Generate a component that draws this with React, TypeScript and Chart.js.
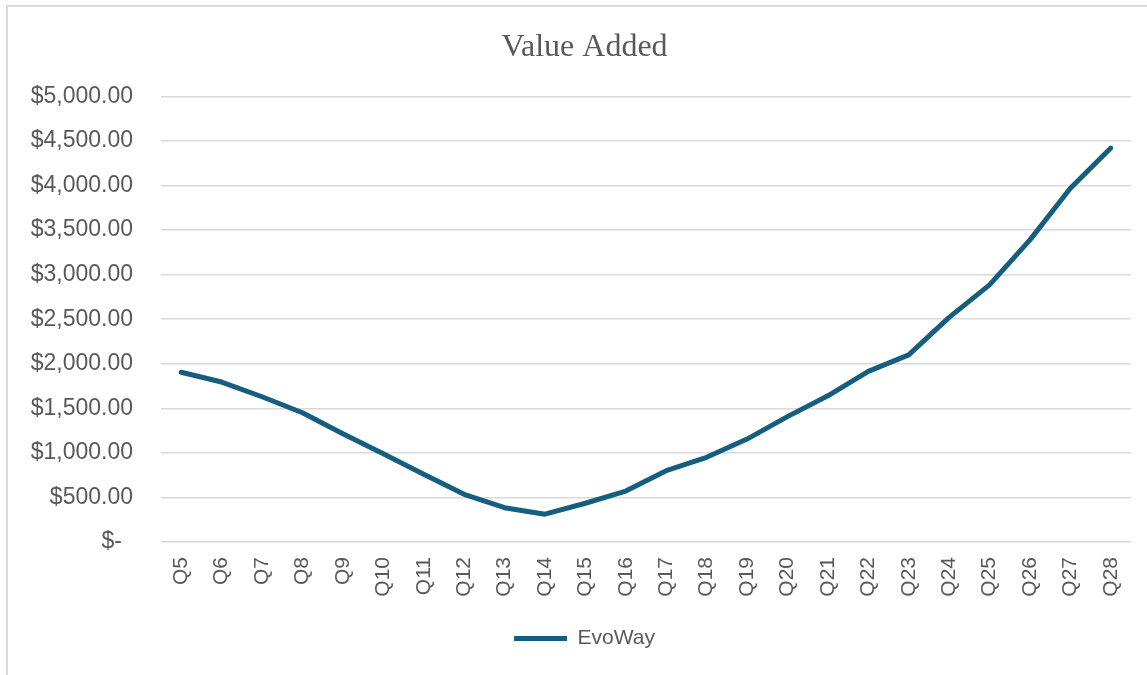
import React, { useEffect, useRef } from "react";
import { Chart, registerables } from "chart.js";

Chart.register(...registerables);

// Quarterly value added for EvoWay
const quarters = [
  "Q5", "Q6", "Q7", "Q8", "Q9", "Q10", "Q11", "Q12", "Q13", "Q14", "Q15", "Q16",
  "Q17", "Q18", "Q19", "Q20", "Q21", "Q22", "Q23", "Q24", "Q25", "Q26", "Q27", "Q28",
];
const evoWayValues = [
  1905, 1795, 1630, 1450, 1215, 990, 760, 535, 385, 312, 435, 572,
  800, 950, 1155, 1407, 1640, 1915, 2100, 2520, 2885, 3390, 3970, 4420,
];
const seriesName = "EvoWay";
const chartTitle = "Value Added";
const yMin = 0;
const yMax = 5000;
const yStep = 500;

const textGray = "#595959";
const gridGray = "#d9d9d9";
const lineBlue = "#165E80";

function formatDollars(v: number): string {
  if (v === 0) return "$-\u2009 ";
  return "$" + v.toLocaleString("en-US", { minimumFractionDigits: 2, maximumFractionDigits: 2 });
}

// Let the y tick labels use the space to the left of the axis box
// so the wide currency labels are not clipped.
const widenYLabelArea = {
  id: "widenYLabelArea",
  afterLayout(chart: any) {
    const y = chart.scales.y;
    if (y) y.left = 0;
  },
};

export default function App() {
  const canvasRef = useRef<HTMLCanvasElement | null>(null);

  useEffect(() => {
    if (!canvasRef.current) return;
    const chart = new Chart(canvasRef.current, {
      type: "line",
      data: {
        labels: quarters,
        datasets: [
          {
            label: seriesName,
            data: evoWayValues,
            borderColor: lineBlue,
            backgroundColor: lineBlue,
            borderWidth: 5,
            borderCapStyle: "round",
            borderJoinStyle: "round",
            pointRadius: 0,
            pointHoverRadius: 0,
            pointStyle: "line",
            tension: 0,
            fill: false,
          },
        ],
      },
      options: {
        responsive: false,
        animation: false,
        layout: { padding: { left: 38, right: 16, top: 0, bottom: 16 } },
        plugins: {
          title: {
            display: true,
            text: chartTitle,
            color: textGray,
            font: { family: "'Liberation Serif', 'Times New Roman', serif", size: 32, weight: "normal" },
            padding: { top: 28, bottom: 30 },
          },
          legend: {
            display: true,
            position: "bottom",
            labels: {
              usePointStyle: true,
              pointStyleWidth: 53,
              color: textGray,
              padding: 10,
              font: { family: "'Liberation Sans', Arial, sans-serif", size: 21 },
            },
          },
          tooltip: { enabled: false },
        },
        scales: {
          x: {
            offset: true,
            grid: { display: false, drawTicks: false },
            border: { display: false },
            ticks: {
              autoSkip: false,
              maxRotation: 90,
              minRotation: 90,
              padding: 15,
              color: textGray,
              font: { family: "'Liberation Sans', Arial, sans-serif", size: 21 },
            },
            afterFit: (scale: any) => {
              scale.height = 76;
              scale.paddingLeft = 0;
              scale.paddingRight = 0;
            },
          },
          y: {
            min: yMin,
            max: yMax,
            grid: { color: gridGray, lineWidth: 1.5, drawTicks: false },
            border: { display: false },
            ticks: {
              stepSize: yStep,
              padding: 28,
              color: textGray,
              font: { family: "'Liberation Sans', Arial, sans-serif", size: 23 },
              callback: (value: any) => formatDollars(Number(value)),
            },
            afterFit: (scale: any) => {
              scale.width = 123;
            },
          },
        },
      },
      plugins: [widenYLabelArea],
    });
    return () => chart.destroy();
  }, []);

  return (
    <div
      style={{
        position: "fixed",
        left: 0,
        top: 0,
        width: 1147,
        height: 675,
        overflow: "hidden",
        background: "#ffffff",
      }}
    >
      <div
        style={{
          position: "absolute",
          left: 6,
          top: 5,
          width: 1200,
          height: 720,
          border: "2px solid " + gridGray,
          boxSizing: "border-box",
        }}
      />
      <canvas
        ref={canvasRef}
        width={1147}
        height={675}
        style={{ position: "absolute", left: 0, top: 0 }}
      />
    </div>
  );
}
